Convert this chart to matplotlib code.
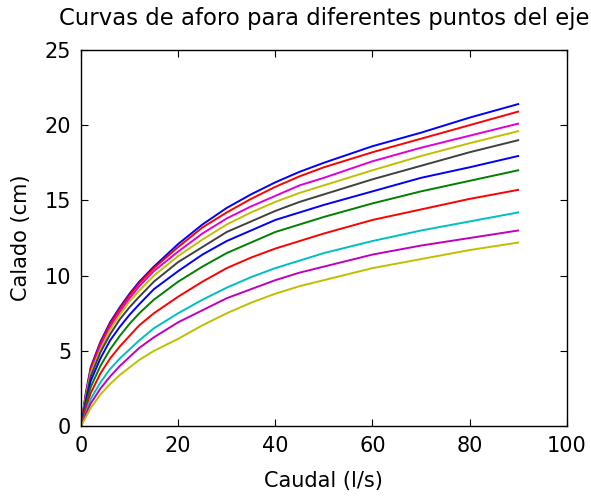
import matplotlib
matplotlib.use("Agg")
import matplotlib.pyplot as plt

Q = [0, 1, 2, 4, 6, 8, 10, 12, 15, 20, 25, 30, 35, 40, 45, 50, 60, 70, 80, 90]

# calado (cm) para cada punto del eje, de arriba a abajo
h1 = [0, 2.2, 3.9, 5.6, 6.9, 7.9, 8.8, 9.6, 10.6, 12.1, 13.4, 14.5, 15.4, 16.2, 16.9, 17.5, 18.6, 19.5, 20.5, 21.4]
h2 = [0, 2.1, 3.8, 5.5, 6.8, 7.8, 8.7, 9.5, 10.5, 11.9, 13.2, 14.2, 15.1, 15.9, 16.6, 17.2, 18.2, 19.1, 20.0, 20.9]
h3 = [0, 2.0, 3.6, 5.3, 6.6, 7.6, 8.5, 9.3, 10.3, 11.6, 12.8, 13.8, 14.6, 15.3, 16.0, 16.5, 17.6, 18.5, 19.3, 20.1]
h4 = [0, 1.9, 3.5, 5.1, 6.4, 7.4, 8.3, 9.0, 10.0, 11.3, 12.4, 13.4, 14.2, 14.9, 15.5, 16.0, 17.0, 17.95, 18.8, 19.6]
h5 = [0, 1.8, 3.3, 4.9, 6.1, 7.1, 7.9, 8.6, 9.6, 10.9, 11.9, 12.9, 13.6, 14.3, 14.9, 15.4, 16.4, 17.3, 18.2, 19.0]
h6 = [0, 1.6, 3.0, 4.5, 5.7, 6.6, 7.4, 8.1, 9.1, 10.3, 11.4, 12.3, 13.0, 13.7, 14.2, 14.7, 15.6, 16.5, 17.2, 17.95]
h7 = [0, 1.4, 2.6, 4.0, 5.1, 6.0, 6.8, 7.5, 8.4, 9.6, 10.6, 11.5, 12.2, 12.9, 13.4, 13.9, 14.8, 15.6, 16.3, 17.0]
h8 = [0, 1.2, 2.2, 3.5, 4.5, 5.3, 6.0, 6.7, 7.5, 8.6, 9.6, 10.5, 11.2, 11.8, 12.3, 12.8, 13.7, 14.4, 15.1, 15.7]
h9 = [0, 0.9, 1.8, 2.9, 3.8, 4.5, 5.1, 5.7, 6.5, 7.5, 8.4, 9.2, 9.9, 10.5, 11.0, 11.5, 12.3, 13.0, 13.6, 14.2]
h10 = [0, 0.8, 1.5, 2.5, 3.3, 4.0, 4.6, 5.2, 5.9, 6.9, 7.7, 8.5, 9.1, 9.7, 10.2, 10.6, 11.4, 12.0, 12.5, 13.0]
h11 = [0, 0.6, 1.2, 2.1, 2.8, 3.4, 3.9, 4.4, 5.0, 5.8, 6.7, 7.5, 8.2, 8.8, 9.3, 9.7, 10.5, 11.1, 11.7, 12.2]

curvas = [h1, h2, h3, h4, h5, h6, h7, h8, h9, h10, h11]
colores = ["#0000ff", "#ff0000", "#dd00dd", "#c0c000", "#404040", "#0000ff",
           "#008000", "#ff0000", "#00bfbf", "#bf00bf", "#bfbf00"]

plt.rcParams["font.family"] = "DejaVu Sans"

fig = plt.figure(figsize=(5.91, 4.99), dpi=100)
ax = fig.add_axes([0.137, 0.146, 0.822, 0.754])

for h, c in zip(curvas, colores):
    ax.plot(Q, h, color=c, linewidth=1.4)

ax.set_xlim(0, 100)
ax.set_ylim(0, 25)
ax.set_xticks([0, 20, 40, 60, 80, 100])
ax.set_yticks([0, 5, 10, 15, 20, 25])
ax.tick_params(direction="in", top=True, right=True, labelsize=15, length=5, pad=7)
for s in ax.spines.values():
    s.set_linewidth(1.0)

ax.set_title("Curvas de aforo para diferentes puntos del eje", fontsize=16.4, pad=18)
ax.set_xlabel("Caudal (l/s)", fontsize=15, labelpad=11)
ax.set_ylabel("Calado (cm)", fontsize=15, labelpad=10)

fig.savefig("out.png", dpi=100)
